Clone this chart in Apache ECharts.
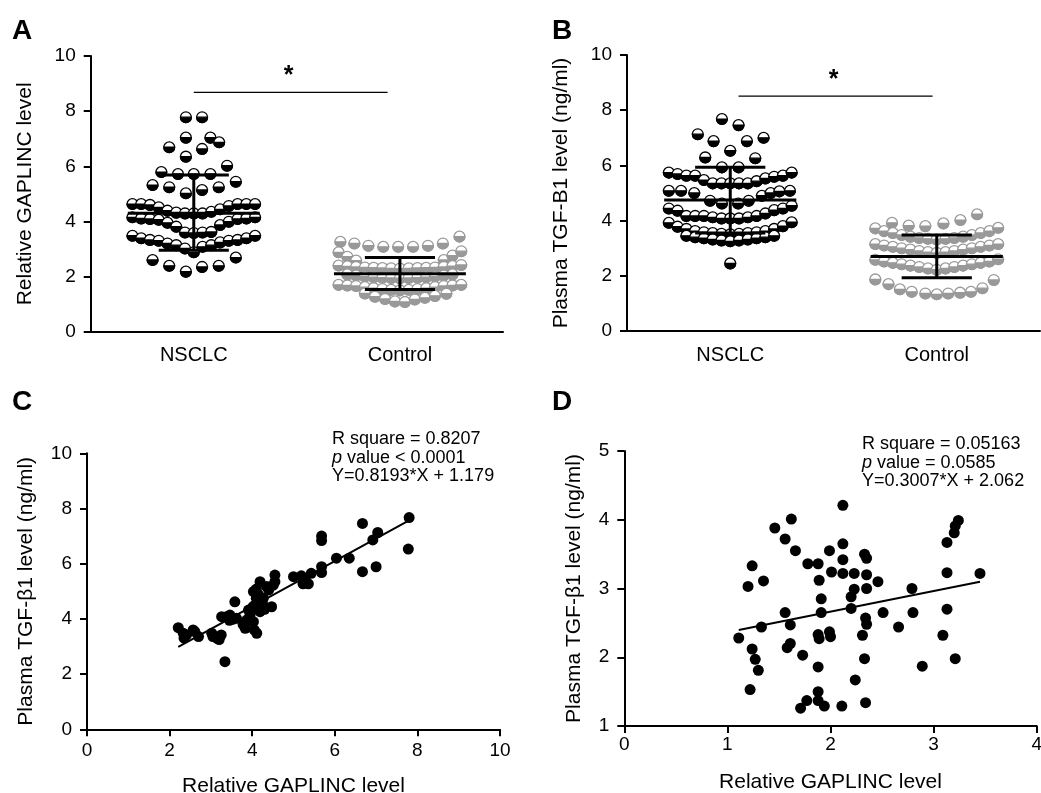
<!DOCTYPE html>
<html><head><meta charset="utf-8">
<script src="https://cdn.jsdelivr.net/npm/echarts/dist/echarts.min.js"></script>
<style>html,body{margin:0;padding:0;background:#fff}#c{width:1041px;height:793px}</style>
</head><body><div id="c"></div><script>
const FONT = '"Liberation Sans", Arial, Helvetica, sans-serif';
const categories = ['NSCLC', 'Control'];

// Panel A: Relative GAPLINC level (y values + dodge slot of each dot)
const aNsclcY = [7.78,7.78, 7.04,7.04,6.87, 6.69,6.63, 6.35, 6.02, 5.79,5.72,5.72,5.72, 5.32,5.24,5.02,5.14,5.24,5.44,
  4.63,4.63,4.60,4.51,4.39,4.32,4.29,4.29,4.29,4.35,4.44,4.56,4.63,4.63,4.63,
  4.15,4.11,4.09,4.06,3.95,3.81,3.60,3.58,3.60,3.62,3.87,3.99,4.09,4.11,4.15,
  3.48,3.39,3.33,3.30,3.20,3.14,3.02,2.88,3.08,3.14,3.24,3.30,3.33,3.39,3.48,
  2.60,2.39,2.18,2.35,2.39,2.69];
const aNsclcSlot = [-0.9,0.95, -0.9,1.9,2.9, -2.8,0.95, -0.9, 3.8, -3.7,-1.8,0,1.9, -4.7,-2.8,-0.9,0.95,2.85,4.8,
  -7,-6,-5,-4,-3,-2,-1,0,1,2,3,4,5,6,7,
  -7,-6,-5,-4,-3,-2,-1,0,1,2,3,4,5,6,7,
  -7,-6,-5,-4,-3,-2,-1,0,1,2,3,4,5,6,7,
  -4.7,-2.8,-0.9,0.95,2.85,4.8];
const aCtrlY = [3.26,3.20,3.12,3.08,3.08,3.08,3.12,3.20,3.45,
  2.88,2.72,2.58,2.60,2.76,2.92,
  2.40,2.37,2.35,2.33,2.32,2.31,2.30,2.29,2.30,2.31,2.32,2.33,2.35,2.38,2.42,
  2.08,2.04,2.00,1.98,1.96,1.95,1.94,1.95,1.96,1.98,2.00,2.04,2.08,
  1.70,1.68,1.66,1.62,1.58,1.55,1.52,1.50,1.52,1.55,1.58,1.62,1.66,1.68,1.70,
  1.39,1.27,1.19,1.10,1.08,1.17,1.23,1.30,1.38];
const aCtrlSlot = [-6.8,-5.2,-3.6,-1.9,-0.2,1.5,3.2,4.9,6.8,
  -7,-6,-5,5,6,7,
  -7,-6,-5,-4,-3,-2,-1,0,1,2,3,4,5,6,7,
  -6,-5,-4,-3,-2,-1,0,1,2,3,4,5,6,
  -7,-6,-5,-4,-3,-2,-1,0,1,2,3,4,5,6,7,
  -4,-2.85,-1.7,-0.57,0.57,1.7,2.85,4,5.3];
// [mean, mean+SD, mean-SD]
const aNsclcStats = [4.30, 5.68, 2.95];
const aCtrlStats = [2.10, 2.69, 1.53];
const aSig = [0.50, 1.44, 8.68];

// Panel B: Plasma TGF-B1 level
const bNsclcY = [7.68,7.46,7.13,6.88,6.88,7.00,6.53,6.29,6.26,5.93,5.93,
  5.74,5.69,5.63,5.63,5.47,5.35,5.35,5.35,5.35,5.35,5.43,5.53,5.59,5.63,5.74,
  5.08,5.08,5.00,4.72,4.62,4.62,4.72,4.90,5.00,5.06,5.08,
  4.44,4.36,4.17,4.17,4.17,4.12,4.08,4.08,4.08,4.12,4.17,4.26,4.38,4.44,4.54,
  3.92,3.78,3.70,3.62,3.58,3.55,3.52,3.50,3.52,3.55,3.58,3.62,3.70,3.80,3.94,
  3.45,3.40,3.36,3.32,3.28,3.25,3.28,3.32,3.36,3.40,3.45,
  2.45];
const bNsclcSlot = [-0.95,0.95,-3.7,-1.9,1.9,3.8,0,-2.85,2.85,-0.95,0.95,
  -7,-6,-5,-4,-3,-2,-1,0,1,2,3,4,5,6,7,
  -7,-5.6,-4.1,-2.3,-0.95,0.9,2.1,3.6,4.6,5.6,6.8,
  -7,-6,-5,-4,-3,-2,-1,0,1,2,3,4,5,6,7,
  -7,-6,-5,-4,-3,-2,-1,0,1,2,3,4,5,6,7,
  -5,-4,-3,-2,-1,0,1,2,3,4,5,
  0];
const bCtrlY = [3.92,3.82,3.80,3.90,4.02,4.23,
  3.72,3.62,3.55,3.48,3.42,3.37,3.34,3.32,3.34,3.37,3.42,3.48,3.55,3.62,3.74,
  3.15,3.10,3.05,3.00,2.95,2.90,2.86,2.83,2.86,2.90,2.95,3.00,3.05,3.10,3.15,
  2.58,2.52,2.47,2.42,2.37,2.32,2.27,2.22,2.27,2.32,2.37,2.42,2.47,2.52,2.60,
  1.87,1.70,1.51,1.42,1.36,1.33,1.36,1.39,1.42,1.55,1.85];
const bCtrlSlot = [-5.1,-3.2,-1.3,0.76,2.7,4.6,
  -7,-6,-5,-4,-3,-2,-1,0,1,2,3,4,5,6,7,
  -7,-6,-5,-4,-3,-2,-1,0,1,2,3,4,5,6,7,
  -7,-6,-5,-4,-3,-2,-1,0,1,2,3,4,5,6,7,
  -7,-5.5,-4.2,-2.85,-1.3,0,1.3,2.66,3.9,5.2,6.5];
const bNsclcStats = [4.75, 5.93, 3.55];
const bCtrlStats = [2.70, 3.48, 1.93];
const bSig = [0.54, 1.48, 8.51];

// Panel C: NSCLC, GAPLINC vs TGF-β1
const cPoints = [[7.80,7.67],[7.78,6.53],[6.67,7.46],[7.04,7.13],[6.92,6.86],[5.68,7.00],[5.68,6.84],[6.67,5.71],
  [7.00,5.89],[6.04,6.20],[6.35,6.20],[5.68,5.89],[5.68,5.68],[5.43,5.65],[5.19,5.56],[5.00,5.53],[5.23,5.27],
  [5.36,5.27],[5.28,5.40],[4.55,5.59],[4.55,5.35],[4.51,5.22],[4.35,5.17],[4.19,5.35],[4.03,4.99],[4.10,5.08],
  [4.27,4.75],[4.10,4.75],[4.07,4.50],[4.47,4.44],[4.02,4.44],[4.19,4.26],[3.91,4.32],[3.58,4.62],[3.46,4.14],
  [3.26,4.08],[3.38,4.08],[3.54,3.99],[3.62,4.02],[3.87,3.96],[4.03,3.90],[3.83,3.66],[4.11,3.48],[4.05,3.60],
  [3.34,2.45],[2.21,3.68],[2.33,3.48],[2.41,3.42],[2.57,3.60],[2.61,3.54],[2.70,3.36],[3.02,3.48],[3.05,3.36],
  [3.14,3.30],[3.22,3.36],[3.25,3.42],[3.95,4.15],[4.25,4.55],[4.15,4.88],[3.20,3.25],[2.35,3.30],[4.40,5.05],
  [4.30,4.35],[3.78,3.80],[3.45,3.95]];
const cFit = [0.8193, 1.179];
const cText = ['R square = 0.8207', 'value < 0.0001', 'Y=0.8193*X + 1.179'];

// Panel D: Control, GAPLINC vs TGF-β1
const dPoints = [[2.12,4.21],[1.62,4.01],[1.46,3.88],[1.56,3.72],[1.66,3.55],[3.24,3.99],[3.21,3.91],[3.20,3.81],
  [3.13,3.67],[2.12,3.65],[1.99,3.55],[2.12,3.42],[2.33,3.50],[2.35,3.44],[1.78,3.36],[1.88,3.36],[1.24,3.33],
  [1.20,3.03],[1.35,3.11],[1.89,3.12],[2.01,3.24],[2.12,3.22],[2.23,3.22],[2.35,3.20],[2.46,3.10],[2.35,3.00],
  [2.23,2.99],[2.20,2.88],[1.91,2.85],[2.79,3.00],[3.13,3.23],[3.45,3.22],[1.56,2.65],[1.91,2.65],[2.20,2.71],
  [2.51,2.65],[2.80,2.65],[3.13,2.70],[1.33,2.44],[1.61,2.47],[2.34,2.57],[2.35,2.48],[2.66,2.44],[1.11,2.28],
  [1.88,2.33],[1.89,2.27],[1.99,2.37],[2.00,2.30],[2.31,2.32],[3.09,2.32],[1.24,2.12],[1.27,1.97],[1.30,1.81],
  [1.61,2.20],[1.58,2.14],[1.73,2.03],[1.88,1.86],[2.33,1.98],[2.89,1.87],[3.21,1.98],[2.24,1.67],[1.22,1.53],
  [1.88,1.50],[1.71,1.26],[1.77,1.37],[1.88,1.37],[1.94,1.29],[2.11,1.29],[2.34,1.34]];
const dFit = [0.3007, 2.062];
const dText = ['R square = 0.05163', 'value = 0.0585', 'Y=0.3007*X + 2.062'];

const SLOT = 0.0425;   // x-axis units per dodge slot
const R = 5.4;         // dot radius (px)

function swarm(center, ys, slots) { return ys.map((y, i) => [center + slots[i] * SLOT, y]); }
function fitLine(pts, f) {
  const xs = pts.map(p => p[0]);
  const x0 = Math.min(...xs), x1 = Math.max(...xs);
  return [[x0, f[0] * x0 + f[1]], [x1, f[0] * x1 + f[1]]];
}
function halfDot(color) {
  return function (params, api) {
    const p = api.coord([api.value(0), api.value(1)]);
    return { type: 'group', children: [
      { type: 'circle', shape: { cx: p[0], cy: p[1], r: R }, style: { fill: '#fff', stroke: color, lineWidth: 1.3 } },
      { type: 'sector', shape: { cx: p[0], cy: p[1], r0: 0, r: R, startAngle: 0, endAngle: Math.PI, clockwise: true },
        style: { fill: color, stroke: color, lineWidth: 1.3 } }
    ] };
  };
}
function errBar(params, api) {
  const c = api.value(0), m = api.value(1), hi = api.value(2), lo = api.value(3);
  const L = (x1, y1, x2, y2) => { const a = api.coord([x1, y1]), b = api.coord([x2, y2]);
    return { type: 'line', shape: { x1: a[0], y1: a[1], x2: b[0], y2: b[1] }, style: { stroke: '#000', lineWidth: 3 } }; };
  return { type: 'group', children: [L(c - 0.32, m, c + 0.32, m), L(c, lo, c, hi), L(c - 0.17, hi, c + 0.17, hi), L(c - 0.17, lo, c + 0.17, lo)] };
}
function sigRender(params, api) {
  const a = api.coord([api.value(0), api.value(2)]), b = api.coord([api.value(1), api.value(2)]);
  return { type: 'group', children: [
    { type: 'line', shape: { x1: a[0], y1: a[1], x2: b[0], y2: a[1] }, style: { stroke: '#000', lineWidth: 1.3 } },
    { type: 'text', style: { text: '*', x: (a[0] + b[0]) / 2 - 2, y: a[1] - 16, align: 'center', verticalAlign: 'middle',
      fontSize: 25, fontWeight: 'bold', fontFamily: FONT, fill: '#000' } }
  ] };
}

const LS = { color: '#000', width: 2 };
function yAx(grid, min, max, interval, name, gap) {
  return { type: 'value', gridIndex: grid, min, max, interval, name, nameLocation: 'middle', nameGap: gap,
    nameTextStyle: { fontSize: 21, fontFamily: FONT, color: '#000' },
    axisLine: { show: true, lineStyle: LS }, axisTick: { show: true, length: 7, lineStyle: LS },
    axisLabel: { fontSize: 19, fontFamily: FONT, color: '#000', margin: 15 }, splitLine: { show: false } };
}
function xCat(grid) {
  return { type: 'category', gridIndex: grid, data: categories, boundaryGap: true,
    axisLine: { onZero: false, lineStyle: LS }, axisTick: { alignWithLabel: true, length: 7, lineStyle: LS },
    axisLabel: { fontSize: 20, fontFamily: FONT, color: '#000', margin: 14 } };
}
function xHidden(grid) { return { type: 'value', gridIndex: grid, min: 0, max: 2, show: false }; }
function xVal(grid, min, max, interval, name, gap, margin) {
  return { type: 'value', gridIndex: grid, min, max, interval, name, nameLocation: 'middle', nameGap: gap,
    nameTextStyle: { fontSize: 21, fontFamily: FONT, color: '#000' },
    axisLine: { show: true, onZero: false, lineStyle: LS }, axisTick: { show: true, length: 7, lineStyle: LS },
    axisLabel: { fontSize: 19, fontFamily: FONT, color: '#000', margin }, splitLine: { show: false } };
}

function letter(t, x, y) { return { type: 'text', left: x, top: y, style: { text: t, fontSize: 28, fontWeight: 'bold', fontFamily: FONT, fill: '#000' } }; }
function note(lines, x, y) {
  return { type: 'text', left: x, top: y, style: {
    text: lines[0] + '\n{i|p} ' + lines[1] + '\n' + lines[2], fontSize: 18, lineHeight: 18.5, fontFamily: FONT, fill: '#000',
    rich: { i: { fontStyle: 'italic', fontSize: 18, lineHeight: 18.5, fontFamily: FONT, fill: '#000' } } } };
}

const chart = echarts.init(document.getElementById('c'), null, { renderer: 'canvas' });
chart.setOption({
  animation: false,
  backgroundColor: '#fff',
  grid: [
    { left: 90.7, top: 56, width: 412.3, height: 275.7, containLabel: false, outerBoundsMode: 'none' },
    { left: 627, top: 55, width: 413, height: 276, containLabel: false, outerBoundsMode: 'none' },
    { left: 87, top: 453.3, width: 413, height: 276, containLabel: false, outerBoundsMode: 'none' },
    { left: 624.3, top: 451, width: 412.4, height: 275, containLabel: false, outerBoundsMode: 'none' }
  ],
  xAxis: [xCat(0), xHidden(0), xCat(1), xHidden(1),
    xVal(2, 0, 10, 2, 'Relative GAPLINC level', 46, 12),
    xVal(3, 0, 4, 1, 'Relative GAPLINC level', 46, 9)],
  yAxis: [yAx(0, 0, 10, 2, 'Relative GAPLINC level', 55),
    yAx(1, 0, 10, 2, 'Plasma TGF-B1 level (ng/ml)', 55),
    yAx(2, 0, 10, 2, 'Plasma TGF-β1 level (ng/ml)', 50),
    yAx(3, 1, 5, 1, 'Plasma TGF-β1 level (ng/ml)', 40)],
  series: [
    { type: 'custom', xAxisIndex: 1, yAxisIndex: 0, renderItem: halfDot('#000'), data: swarm(0.5, aNsclcY, aNsclcSlot), z: 2 },
    { type: 'custom', xAxisIndex: 1, yAxisIndex: 0, renderItem: halfDot('#999'), data: swarm(1.5, aCtrlY, aCtrlSlot), z: 2 },
    { type: 'custom', xAxisIndex: 1, yAxisIndex: 0, renderItem: errBar, data: [[0.5].concat(aNsclcStats), [1.5].concat(aCtrlStats)], z: 3 },
    { type: 'custom', xAxisIndex: 1, yAxisIndex: 0, renderItem: sigRender, data: [aSig], z: 3 },
    { type: 'custom', xAxisIndex: 3, yAxisIndex: 1, renderItem: halfDot('#000'), data: swarm(0.5, bNsclcY, bNsclcSlot), z: 2 },
    { type: 'custom', xAxisIndex: 3, yAxisIndex: 1, renderItem: halfDot('#999'), data: swarm(1.5, bCtrlY, bCtrlSlot), z: 2 },
    { type: 'custom', xAxisIndex: 3, yAxisIndex: 1, renderItem: errBar, data: [[0.5].concat(bNsclcStats), [1.5].concat(bCtrlStats)], z: 3 },
    { type: 'custom', xAxisIndex: 3, yAxisIndex: 1, renderItem: sigRender, data: [bSig], z: 3 },
    { type: 'scatter', xAxisIndex: 4, yAxisIndex: 2, data: cPoints, symbolSize: 11, itemStyle: { color: '#000', opacity: 1 } },
    { type: 'line', xAxisIndex: 4, yAxisIndex: 2, data: fitLine(cPoints, cFit), showSymbol: false, symbol: 'none', lineStyle: { color: '#000', width: 2 }, z: 3 },
    { type: 'scatter', xAxisIndex: 5, yAxisIndex: 3, data: dPoints, symbolSize: 11, itemStyle: { color: '#000', opacity: 1 } },
    { type: 'line', xAxisIndex: 5, yAxisIndex: 3, data: fitLine(dPoints, dFit), showSymbol: false, symbol: 'none', lineStyle: { color: '#000', width: 2 }, z: 3 }
  ],
  graphic: [letter('A', 12, 17), letter('B', 552, 17), letter('C', 12, 388), letter('D', 552, 388),
    note(cText, 332, 430), note(dText, 862, 435)]
});
</script></body></html>
